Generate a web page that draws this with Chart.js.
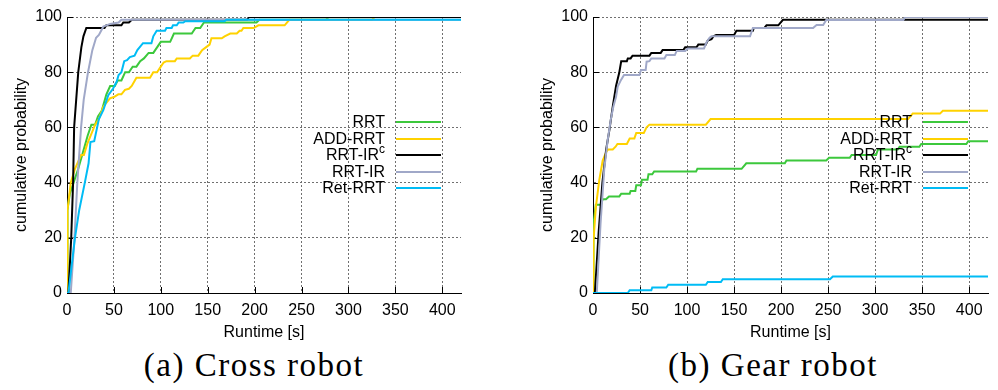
<!DOCTYPE html>
<html><head><meta charset="utf-8">
<script src="https://cdn.jsdelivr.net/npm/chart.js@4.4.1/dist/chart.umd.min.js"></script>
<style>
html,body{margin:0;padding:0;background:#fff;}
#wrap{position:relative;width:998px;height:390px;overflow:hidden;background:#fff;font-family:"Liberation Sans",Arial,sans-serif;}
.pane{position:absolute;top:0;width:499px;height:345px;}
.lbl{position:absolute;width:200px;text-align:right;font-size:16px;line-height:18px;height:18px;color:#000;white-space:nowrap;}
.lbl sup{font-size:12px;position:relative;top:-3px;vertical-align:top;line-height:12px;}
.sw{position:absolute;height:2px;}
.caption{position:absolute;width:400px;text-align:center;font-family:"Liberation Serif",serif;font-size:33px;letter-spacing:1.5px;line-height:40px;color:#000;white-space:nowrap;}
</style>
</head><body>
<div id="wrap">
  <div class="pane" style="left:0"><canvas id="c1" width="499" height="345"></canvas></div>
  <div class="pane" style="left:499px"><canvas id="c2" width="499" height="345"></canvas></div>
</div>
<script>
// ---------- data ----------
const seriesNames = ['RRT', 'ADD-RRT', 'RRT-IRc', 'RRT-IR', 'Ret-RRT'];
const seriesLabelsHtml = ['RRT', 'ADD-RRT', 'RRT-IR<sup>c</sup>', 'RRT-IR', 'Ret-RRT'];
const seriesColors = ['#3cc83c', '#ffd200', '#000000', '#a0a8c8', '#00bcf5'];
const xTickValues = [0, 50, 100, 150, 200, 250, 300, 350, 400];
const yTickValues = [0, 20, 40, 60, 80, 100];
const captions = ['(a) Cross robot', '(b) Gear robot'];

// (a) Cross robot
const crossRrtT = [0, 0.5, 3, 7, 12, 17, 22, 26, 30, 33, 37, 42, 46, 51, 54, 58, 62, 66, 70, 74, 78, 82, 87, 92, 96, 100, 110, 114, 133, 137, 142, 146, 202, 205, 276, 279, 420];
const crossRrtP = [0, 30, 36, 40, 45, 51, 57, 61, 61, 64, 66, 72, 75, 75, 77, 77, 80, 80, 82, 82, 84, 85, 87, 87, 89, 91, 91, 94, 94, 96, 96, 98, 98, 99, 99, 100, 100];
const crossAddT = [0, 0.5, 4, 8.5, 15, 18, 21.6, 30, 34, 38.7, 45.8, 50, 54.7, 58, 61.8, 66, 69, 74, 88.5, 92, 96, 100, 103, 106, 115, 117, 131, 134, 140, 144, 148, 152, 154, 165, 168, 174, 181, 184, 186, 188, 199, 204, 232, 237, 325, 328, 420];
const crossAddP = [0, 30, 40, 45, 50, 50, 54, 61, 63, 67.5, 70.5, 71, 72, 72, 73.6, 74, 75, 78, 78, 80, 80, 82, 83.5, 84, 84, 85, 85, 86, 86, 88, 89, 90, 92.3, 92.3, 93, 94, 94, 95, 95, 96, 96, 97, 97, 99, 99, 100, 100];
const crossIrcT = [0, 1.5, 4.5, 6.5, 7.6, 12, 15.3, 17.5, 20.6, 40, 42, 58, 60, 66, 69, 192, 194, 420];
const crossIrcP = [0, 0, 20, 40, 60, 80, 89, 93, 96, 96, 97, 97, 98, 98, 99, 99, 100, 100];
const crossIrT = [0, 4, 8, 11, 15, 17.8, 22.4, 27, 31, 34, 38.7, 46, 55, 58, 420];
const crossIrP = [0, 0, 20, 40, 60, 70, 80, 88, 92.5, 93.5, 96.5, 97.5, 98, 99, 99];
const crossRetT = [0, 1.5, 5, 8.5, 13, 19, 23, 25, 29, 34, 38.7, 44, 49, 53, 55, 58, 61, 64, 67, 72, 75, 81, 90, 92, 95.6, 104.5, 106, 111.6, 113, 117, 119, 124, 126, 168, 170, 420];
const crossRetP = [0, 0, 10, 20, 30, 40, 47, 54.7, 55, 63, 66.3, 71.7, 74, 76.6, 79, 80, 84, 84.4, 85.5, 86, 88, 90.5, 90.5, 93, 95, 95, 96, 96, 97, 97, 98, 98, 98.5, 98.5, 99, 99];

// (b) Gear robot
const gearRrtT = [0, 0.5, 3, 8.5, 10.3, 13.8, 17, 28, 30, 39, 40, 45, 46, 51, 52, 58, 59, 63, 65, 109.6, 111, 158, 163, 204, 205.7, 248, 251, 273, 275, 301, 303, 324, 326, 347, 349, 397, 399, 420];
const gearRrtP = [0, 25, 32, 32, 34, 34, 35, 35, 36, 36, 37, 37, 39, 39, 41, 41, 43, 43, 44, 44, 45, 45, 47, 47, 48, 48, 49, 49, 50, 50, 52, 52, 53, 53, 54, 54, 55, 55];
const gearAddT = [0, 0.5, 3, 6.7, 10.3, 14, 16, 21, 24, 26, 36, 39, 44, 46, 54, 57, 60, 120, 125, 335, 340, 369, 372, 420];
const gearAddP = [0, 19, 31, 41, 48, 51, 52, 52, 53, 54, 54, 56, 56, 58, 58, 60, 61, 61, 63, 63, 65, 65, 66, 66];
const gearIrcT = [0, 2, 6, 10, 14, 17.4, 21, 24.5, 28, 30, 36, 37, 40, 42, 60, 62, 72, 74, 96, 98, 110, 112, 120, 122, 126, 128, 131, 150, 152.5, 170, 171, 182, 184.5, 197, 202, 420];
const gearIrcP = [0, 0, 22, 40, 52, 59, 67.5, 75, 80, 84, 84, 85, 85, 86, 86, 87, 87, 88, 88, 89, 89, 90, 90, 91.5, 92, 93, 93.5, 93.5, 95, 95, 96, 96, 97, 97, 99, 99];
const gearIrT = [0, 4, 8, 12, 15.6, 19, 21.6, 24.5, 26.3, 29.8, 33, 49.4, 51, 56, 57, 60, 62, 76, 78, 87, 89, 98, 100.7, 118, 121, 124, 126, 167, 170, 234, 237.7, 244.7, 248, 330, 332, 420];
const gearIrP = [0, 0, 25, 45, 55.4, 63, 67.5, 71.1, 74.8, 77.2, 79, 79, 80.8, 80.8, 83.8, 84, 85, 85, 86.2, 86.2, 87.7, 87.7, 88.6, 88.6, 91, 92.5, 93, 93, 96, 96, 97.1, 97.1, 98.9, 98.9, 100, 100];
const gearRetT = [0, 37, 39, 62, 63, 78, 80, 120, 122, 136, 138, 252, 255, 420];
const gearRetP = [0, 0, 1, 1, 2, 2, 3, 3, 4, 4, 5, 5, 6, 6];

// ---------- helpers ----------
const FONT = '"Liberation Sans", Arial, sans-serif';
function pts(t, p) { return t.map((v, i) => ({x: v, y: p[i]})); }

const inwardTicks = {
  id: 'inwardTicks',
  beforeDatasetsDraw(chart) {
    const {ctx, chartArea: a, scales: {x, y}} = chart;
    ctx.save();
    ctx.strokeStyle = '#000';
    ctx.lineWidth = 1;
    ctx.beginPath();
    x.ticks.forEach(t => {
      const px = Math.round(x.getPixelForValue(t.value)) + 0.5;
      ctx.moveTo(px, a.bottom); ctx.lineTo(px, a.bottom - 6);
    });
    y.ticks.forEach(t => {
      const py = Math.round(y.getPixelForValue(t.value)) + 0.5;
      ctx.moveTo(a.left, py); ctx.lineTo(a.left + 6, py);
    });
    ctx.stroke();
    ctx.restore();
  }
};

function makeChart(id, seriesData, yAxisWidth, rightPad, yTitlePad) {
  const gridColor = '#707070';
  const gridDash = [2, 2];
  return new Chart(document.getElementById(id), {
    type: 'line',
    data: {
      datasets: seriesData.map((d, i) => ({
        label: seriesNames[i],
        data: d,
        borderColor: seriesColors[i],
        backgroundColor: seriesColors[i],
        borderWidth: 2,
        pointRadius: 0,
        tension: 0,
        fill: false,
        order: seriesNames.length - i
      }))
    },
    options: {
      responsive: false,
      animation: false,
      events: [],
      layout: {padding: {top: 17, right: rightPad, left: 0, bottom: 0}},
      plugins: {legend: {display: false}, tooltip: {enabled: false}, title: {display: false}},
      scales: {
        x: {
          type: 'linear', min: 0, max: 420,
          afterBuildTicks: s => { s.ticks = xTickValues.map(v => ({value: v})); },
          afterFit: s => { s.height = 52; },
          grid: {display: true, color: gridColor, lineWidth: 1, drawTicks: false, drawOnChartArea: true},
          border: {display: true, color: '#000', width: 1, dash: gridDash},
          ticks: {color: '#000', font: {family: FONT, size: 16}, padding: 8, maxRotation: 0, autoSkip: false},
          title: {display: true, text: 'Runtime [s]', color: '#000', font: {family: FONT, size: 16}, padding: {top: 0, bottom: 3}}
        },
        y: {
          type: 'linear', min: 0, max: 100,
          afterBuildTicks: s => { s.ticks = yTickValues.map(v => ({value: v})); },
          afterFit: s => { s.width = yAxisWidth; },
          grid: {display: true, color: gridColor, lineWidth: 1, drawTicks: false, drawOnChartArea: true},
          border: {display: true, color: '#000', width: 1, dash: gridDash},
          ticks: {color: '#000', font: {family: FONT, size: 16}, padding: 5, autoSkip: false},
          title: {display: true, text: 'cumulative probability', color: '#000', font: {family: FONT, size: 16}, padding: {top: yTitlePad, bottom: 0}}
        }
      }
    },
    plugins: [inwardTicks]
  });
}

makeChart('c1', [pts(crossRrtT, crossRrtP), pts(crossAddT, crossAddP), pts(crossIrcT, crossIrcP), pts(crossIrT, crossIrP), pts(crossRetT, crossRetP)], 67, 38, 12);
makeChart('c2', [pts(gearRrtT, gearRrtP), pts(gearAddT, gearAddP), pts(gearIrcT, gearIrcP), pts(gearIrT, gearIrP), pts(gearRetT, gearRetP)], 94, 10, 39);

// ---------- legends & captions (HTML text) ----------
const wrap = document.getElementById('wrap');
function addLegend(textRight, lineLeft, lineWidth) {
  const rows = [122, 138.5, 155, 171.5, 188];
  seriesNames.forEach((n, i) => {
    const l = document.createElement('div');
    l.className = 'lbl';
    l.style.left = (textRight - 200) + 'px';
    l.style.top = (rows[i] - 9) + 'px';
    l.innerHTML = seriesLabelsHtml[i];
    wrap.appendChild(l);
    const s = document.createElement('div');
    s.className = 'sw';
    s.style.left = lineLeft + 'px';
    s.style.width = lineWidth + 'px';
    s.style.top = (rows[i] - 1) + 'px';
    s.style.background = seriesColors[i];
    wrap.appendChild(s);
  });
}
addLegend(385, 396, 45);
addLegend(912, 923, 45);

[[254, captions[0]], [773, captions[1]]].forEach(([cx, txt]) => {
  const c = document.createElement('div');
  c.className = 'caption';
  c.style.left = (cx - 200) + 'px';
  c.style.top = '345px';
  c.textContent = txt;
  wrap.appendChild(c);
});
</script>
</body></html>
